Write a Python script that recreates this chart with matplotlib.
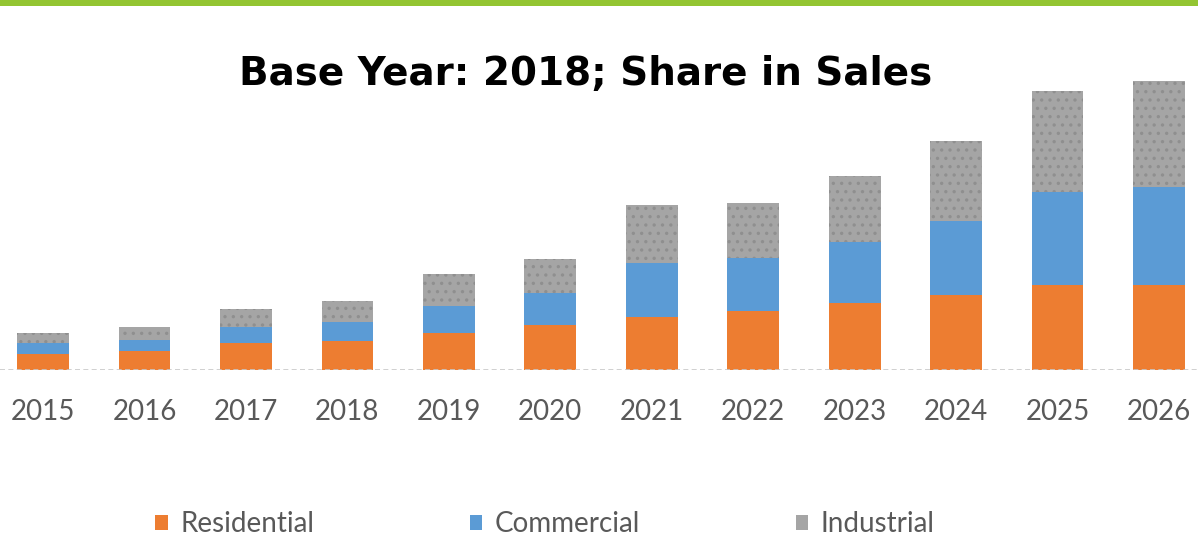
import matplotlib.pyplot as plt
import matplotlib.patches as mpatches
import numpy as np

plt.rcParams['hatch.linewidth'] = 1.2

years = ['2015', '2016', '2017', '2018', '2019', '2020',
         '2021', '2022', '2023', '2024', '2025', '2026']
residential = [16, 19, 27, 29, 37, 45, 53, 59, 67, 75, 85, 85]
commercial = [11, 11, 16, 19, 27, 32, 54, 53, 61, 74, 93, 98]
industrial = [10, 13, 18, 21, 32, 34, 58, 55, 66, 80, 101, 106]

c_res = '#ed7d31'
c_com = '#5b9bd5'
c_ind = '#a5a5a5'

fig = plt.figure(figsize=(11.98, 5.39), dpi=100)
ax = fig.add_axes([0, 1 - 370 / 539, 1, 310 / 539])

x = np.arange(len(years))
res = np.array(residential)
com = np.array(commercial)
ind = np.array(industrial)
w = 0.51

ax.bar(x, res, w, color=c_res, linewidth=0)
ax.bar(x, com, w, bottom=res, color=c_com, linewidth=0)
ax.bar(x, ind, w, bottom=res + com, facecolor=c_ind, edgecolor='#8f8f8f',
       hatch='..', linewidth=0)

# dashed baseline
ax.axhline(0, color='#c8c8c8', lw=1.2, ls=(0, (3, 2)))

ax.set_xlim(-0.424, 11.384)
ax.set_ylim(0, 310)
ax.set_xticks(x)
ax.set_xticklabels(years, fontsize=20, color='#595959', family='Lato')
ax.tick_params(axis='x', length=0, pad=21)
ax.set_yticks([])
for s in ax.spines.values():
    s.set_visible(False)

fig.text(0.489, 1 - 74 / 539, 'Base Year: 2018; Share in Sales', ha='center', va='center',
         fontsize=28, fontweight='bold', color='black', family='DejaVu Sans')

# green strip at the top
fig.patches.append(mpatches.Rectangle((0, 1 - 6 / 539), 1, 6 / 539, transform=fig.transFigure,
                                      facecolor='#93c532', edgecolor='none'))

h1 = mpatches.Patch(facecolor=c_res)
h2 = mpatches.Patch(facecolor=c_com)
h3 = mpatches.Patch(facecolor=c_ind)
leg = fig.legend([h1, h2, h3], ['Residential', 'Commercial', 'Industrial'],
                 loc='center', bbox_to_anchor=(0.455, 1 - 524 / 539), ncol=3,
                 frameon=False, handlelength=0.45, handleheight=0.45, handletextpad=0.45,
                 columnspacing=5.6, prop={'family': 'Lato', 'size': 20})
for t in leg.get_texts():
    t.set_color('#595959')

fig.savefig('out.png', dpi=100)
